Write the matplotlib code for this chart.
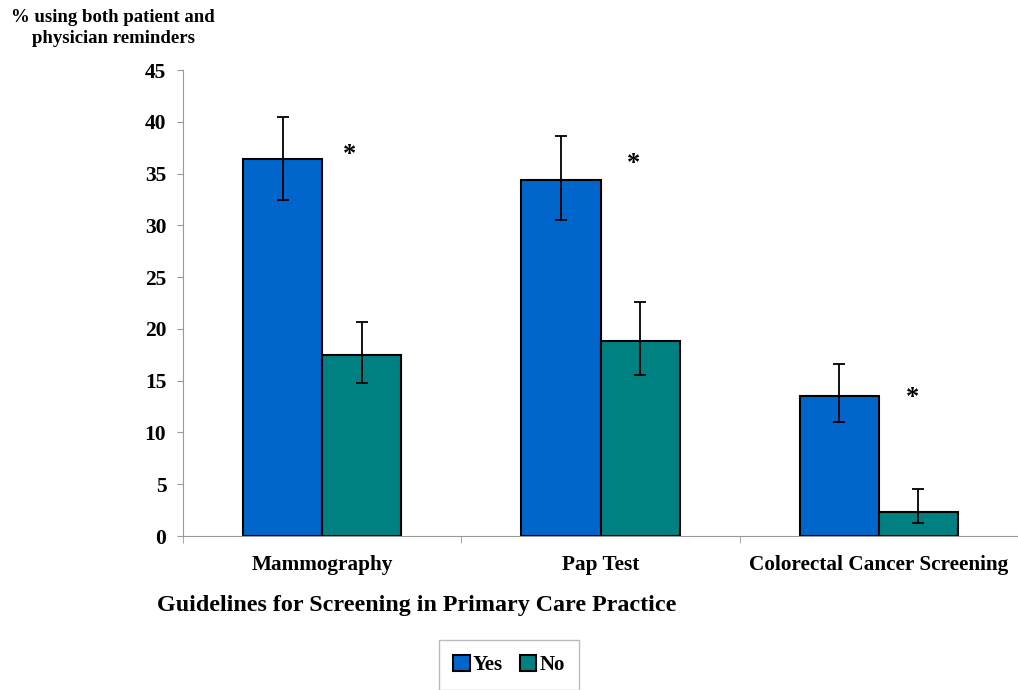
import matplotlib
matplotlib.use("Agg")
import matplotlib.pyplot as plt
import numpy as np

categories = ["Mammography", "Pap Test", "Colorectal Cancer Screening"]
yes_vals = [36.4, 34.4, 13.5]
yes_err_low = [32.4, 30.5, 11.0]
yes_err_high = [40.5, 38.6, 16.6]
no_vals = [17.5, 18.8, 2.3]
no_err_low = [14.8, 15.5, 1.3]
no_err_high = [20.7, 22.6, 4.5]
star_y = [36.8, 36.0, 13.4]
series_names = ["Yes", "No"]
y_ticks = [0, 5, 10, 15, 20, 25, 30, 35, 40, 45]

plt.rcParams['font.family'] = ['Liberation Serif', 'DejaVu Serif']
plt.rcParams['font.weight'] = 'bold'

fig = plt.figure(figsize=(10.18, 6.9), dpi=100)
ax = fig.add_axes([183/1018, 1-536/690, (1018-183)/1018, (536-70)/690])

x = np.arange(len(categories)) + 0.5
w = 0.285
yes_c = "#0066CC"
no_c = "#008080"

yv = np.array(yes_vals); nv = np.array(no_vals)
yerr_yes = [yv - np.array(yes_err_low), np.array(yes_err_high) - yv]
yerr_no = [nv - np.array(no_err_low), np.array(no_err_high) - nv]

ax.bar(x - w/2, yv, w, color=yes_c, edgecolor="black", linewidth=1.5, label=series_names[0], zorder=2)
ax.bar(x + w/2, nv, w, color=no_c, edgecolor="black", linewidth=1.5, label=series_names[1], zorder=2)
ax.errorbar(x - w/2, yv, yerr=yerr_yes, fmt='none', ecolor='black', elinewidth=1.3, capsize=4, capthick=1.3, zorder=3)
ax.errorbar(x + w/2, nv, yerr=yerr_no, fmt='none', ecolor='black', elinewidth=1.3, capsize=4, capthick=1.3, zorder=3)

star_dx = [0.097, 0.118, 0.122]
for xi, dx, sy in zip(x, star_dx, star_y):
    ax.text(xi + dx, sy, "*", ha='center', va='center', fontsize=19, fontweight='bold')

ax.set_xlim(0, 3)
ax.set_ylim(0, 45)
ax.set_yticks(y_ticks)
ax.set_yticklabels([str(t) for t in y_ticks], fontsize=15.5, fontweight='bold')
ax.set_xticks(x)
ax.set_xticklabels(categories, fontsize=15.3, fontweight='bold')
ax.tick_params(axis='x', length=0, pad=14)
ax.tick_params(axis='y', length=4, color='#999999', pad=8, direction='out')
ax.set_xticks([0, 1, 2, 3], minor=True)
ax.tick_params(axis='x', which='minor', length=5, color='#999999', direction='out')
for s in ['top', 'right']:
    ax.spines[s].set_visible(False)
ax.spines['left'].set_color('#999999')
ax.spines['bottom'].set_color('#999999')

fig.text(113/1018, 1-28/690, "% using both patient and\nphysician reminders", ha='center', va='center',
         fontsize=13.5, fontweight='bold', linespacing=1.25)
fig.text(417/1018, 1-606/690, "Guidelines for Screening in Primary Care Practice", ha='center', va='center',
         fontsize=17.3, fontweight='bold')

leg = fig.legend(loc='center', bbox_to_anchor=(509/1018, 1-665/690), ncol=2, frameon=True, fancybox=False,
                 prop={'size': 15, 'weight': 'bold'}, handlelength=0.8, handleheight=0.8, handletextpad=0.15,
                 columnspacing=0.8, borderpad=0.7, borderaxespad=0)
leg.get_frame().set_edgecolor('#aaaaaa')
leg.get_frame().set_linewidth(1.0)

fig.savefig("out.png", dpi=100)
